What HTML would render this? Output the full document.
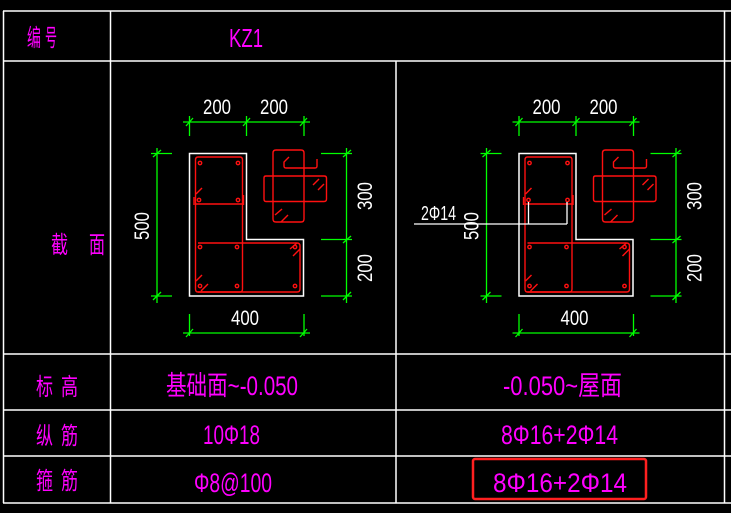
<!DOCTYPE html>
<html><head><meta charset="utf-8"><style>
html,body{margin:0;padding:0;background:#000;width:731px;height:513px;overflow:hidden}
svg{display:block}
text{font-family:"Liberation Sans","Noto Sans CJK SC",sans-serif}
</style></head><body>
<svg width="731" height="513" viewBox="0 0 731 513" xmlns="http://www.w3.org/2000/svg">
<rect width="731" height="513" fill="#000"/>
<!-- table grid -->
<g stroke="#fff" stroke-width="1.5" fill="none">
<line x1="3" y1="11" x2="731" y2="11"/>
<line x1="3" y1="61" x2="731" y2="61"/>
<line x1="3" y1="354" x2="731" y2="354"/>
<line x1="3" y1="410" x2="731" y2="410"/>
<line x1="3" y1="456" x2="731" y2="456"/>
<line x1="3" y1="503" x2="731" y2="503"/>
<line x1="3.5" y1="11" x2="3.5" y2="503"/>
<line x1="110.5" y1="11" x2="110.5" y2="503"/>
<line x1="396" y1="61" x2="396" y2="503"/>
<line x1="724.5" y1="11" x2="724.5" y2="503"/>
</g>
<!-- table text -->
<g fill="#ff00ff" font-size="24">
<text x="27" y="46" textLength="14" lengthAdjust="spacingAndGlyphs">编</text>
<text x="45" y="46" textLength="12" lengthAdjust="spacingAndGlyphs">号</text>
<text x="229" y="47" font-size="26" textLength="34" lengthAdjust="spacingAndGlyphs">KZ1</text>
<text x="51" y="253" textLength="17" lengthAdjust="spacingAndGlyphs">截</text>
<text x="89" y="253" textLength="16" lengthAdjust="spacingAndGlyphs">面</text>
<text x="36" y="395" textLength="17" lengthAdjust="spacingAndGlyphs">标</text>
<text x="61" y="395" textLength="17" lengthAdjust="spacingAndGlyphs">高</text>
<text x="166" y="395" font-size="27" textLength="132" lengthAdjust="spacingAndGlyphs">基础面~-0.050</text>
<text x="503" y="395" font-size="27" textLength="119" lengthAdjust="spacingAndGlyphs">-0.050~屋面</text>
<text x="36" y="444" textLength="17" lengthAdjust="spacingAndGlyphs">纵</text>
<text x="61" y="444" textLength="17" lengthAdjust="spacingAndGlyphs">筋</text>
<text x="203" y="444" font-size="27" textLength="57" lengthAdjust="spacingAndGlyphs">10Φ18</text>
<text x="501" y="444" font-size="27" textLength="117" lengthAdjust="spacingAndGlyphs">8Φ16+2Φ14</text>
<text x="36" y="489" textLength="17" lengthAdjust="spacingAndGlyphs">箍</text>
<text x="61" y="489" textLength="17" lengthAdjust="spacingAndGlyphs">筋</text>
<text x="194" y="492" font-size="27" textLength="78" lengthAdjust="spacingAndGlyphs">Φ8@100</text>
<text x="493" y="492" font-size="27" textLength="134" lengthAdjust="spacingAndGlyphs">8Φ16+2Φ14</text>
</g>
<rect x="473" y="459" width="173" height="40" rx="2" fill="none" stroke="#ff2020" stroke-width="2.5"/>

<defs>
<g id="sec">
  <!-- concrete outline -->
  <path d="M189.5 153.5 H246.5 V239.5 H303.5 V296 H189.5 Z" fill="none" stroke="#fff" stroke-width="1.5"/>
  <!-- green dims -->
  <g stroke="#00ff00" stroke-width="1.3" fill="none">
    <line x1="183" y1="122" x2="310" y2="122"/>
    <line x1="189.5" y1="116" x2="189.5" y2="136"/>
    <line x1="246.5" y1="116" x2="246.5" y2="136"/>
    <line x1="304" y1="116" x2="304" y2="136"/>
    <line x1="186" y1="126" x2="193" y2="118"/>
    <line x1="243" y1="126" x2="250" y2="118"/>
    <line x1="300" y1="126" x2="307" y2="118"/>
    <line x1="157" y1="148" x2="157" y2="303"/>
    <line x1="151" y1="153.5" x2="172" y2="153.5"/>
    <line x1="151" y1="296" x2="172" y2="296"/>
    <line x1="153" y1="157" x2="161" y2="150"/>
    <line x1="153" y1="300" x2="161" y2="292"/>
    <line x1="346.5" y1="148" x2="346.5" y2="303"/>
    <line x1="321" y1="153.5" x2="352" y2="153.5"/>
    <line x1="321" y1="239.5" x2="352" y2="239.5"/>
    <line x1="321" y1="296" x2="352" y2="296"/>
    <line x1="343" y1="157" x2="351" y2="150"/>
    <line x1="343" y1="243" x2="351" y2="236"/>
    <line x1="343" y1="300" x2="351" y2="292"/>
    <line x1="183" y1="333" x2="310" y2="333"/>
    <line x1="189.5" y1="314" x2="189.5" y2="336"/>
    <line x1="304" y1="314" x2="304" y2="336"/>
    <line x1="186" y1="337" x2="193" y2="329"/>
    <line x1="300" y1="337" x2="307" y2="329"/>
  </g>
  <!-- white dim text -->
  <g fill="#fff" font-size="21">
    <text x="203" y="114" textLength="28" lengthAdjust="spacingAndGlyphs">200</text>
    <text x="260" y="114" textLength="28" lengthAdjust="spacingAndGlyphs">200</text>
    <text x="231" y="325" textLength="28" lengthAdjust="spacingAndGlyphs">400</text>
    <text transform="translate(149,240) rotate(-90)" textLength="28" lengthAdjust="spacingAndGlyphs">500</text>
    <text transform="translate(372,210) rotate(-90)" textLength="28" lengthAdjust="spacingAndGlyphs">300</text>
    <text transform="translate(372,282) rotate(-90)" textLength="28" lengthAdjust="spacingAndGlyphs">200</text>
  </g>
  <!-- red stirrups -->
  <g stroke="#ff1010" stroke-width="1.4" fill="none">
    <path d="M198 157 H240 Q242.5 157 242.5 160 V289 Q242.5 292 240 292 H198 Q195.5 292 195.5 289 V160 Q195.5 157 198 157 Z"/>
    <line x1="195.5" y1="204" x2="242.5" y2="204"/>
    <path d="M198 243 H297 Q300 243 300 246 V289 Q300 292 297 292 H198"/>
    <line x1="194" y1="197" x2="194" y2="205"/>
    <line x1="243.5" y1="195" x2="243.5" y2="205"/>
    <circle cx="200" cy="163" r="1.7"/><circle cx="238" cy="163" r="1.7"/>
    <circle cx="199" cy="200" r="1.7"/><circle cx="238" cy="200" r="1.7"/>
    <circle cx="200" cy="247" r="1.7"/><circle cx="237" cy="247" r="1.7"/>
    <circle cx="295" cy="247" r="1.7"/><circle cx="200" cy="286" r="1.7"/>
    <circle cx="237" cy="286" r="1.7"/><circle cx="295" cy="286" r="1.7"/>
    <line x1="196" y1="194" x2="202" y2="188"/>
    <line x1="196" y1="281" x2="202" y2="275"/>
    <line x1="201" y1="291" x2="208" y2="284"/>
    <line x1="290" y1="249" x2="297" y2="243"/>
    <line x1="293" y1="256" x2="300" y2="249"/>
    <!-- detail icon -->
    <path d="M276 150 H301 Q304 150 304 153 V219 Q304 222 301 222 H276 Q273 222 273 219 V153 Q273 150 276 150 Z"/>
    <path d="M266 176 H324 Q326.5 176 326.5 178 V199 Q326.5 201.5 324 201.5 H266 Q264 201.5 264 199 V178 Q264 176 266 176 Z"/>
    <path d="M289 157 L284 162 V166 Q284 168 286 168 H315 Q317 168 317 166 V159"/>
    <line x1="313" y1="185" x2="319" y2="179"/>
    <line x1="318" y1="190" x2="324" y2="184"/>
    <line x1="275" y1="215" x2="282" y2="209"/>
    <line x1="281" y1="222" x2="288" y2="215"/>
  </g>
</g>
</defs>
<use href="#sec"/>
<use href="#sec" transform="translate(329.5,0)"/>
<!-- leader for 2Φ14 -->
<g stroke="#fff" stroke-width="1.3" fill="none">
  <line x1="414" y1="224" x2="567" y2="224"/>
  <line x1="528.5" y1="202" x2="528.5" y2="224"/>
  <line x1="567" y1="202" x2="567" y2="224"/>
</g>
<text x="421" y="220" fill="#fff" font-size="20" textLength="35" lengthAdjust="spacingAndGlyphs">2Φ14</text>
</svg>
</body></html>
